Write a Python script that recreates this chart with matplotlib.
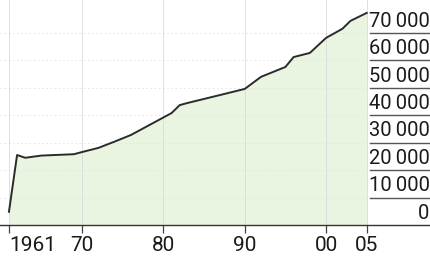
import matplotlib
matplotlib.use("Agg")
import matplotlib.pyplot as plt

years = [1961, 1962, 1963, 1965, 1969, 1970, 1972, 1974, 1976,
         1981, 1982, 1983, 1987, 1990, 1992, 1995, 1996, 1998, 2000,
         2002, 2003, 2005]
values = [4800, 25500, 24500, 25300, 25800, 26600, 28100, 30400, 32800,
          40800, 43700, 44500, 47400, 49600, 54000, 57600, 61200, 62700, 68200,
          71500, 74400, 77300]

x_ticks = [1961, 1970, 1980, 1990, 2000, 2005]
x_labels = ["1961", "70", "80", "90", "00", "05"]
y_ticks = [0, 10000, 20000, 30000, 40000, 50000, 60000, 70000]
y_labels = ["0", "10\u2009000", "20\u2009000", "30\u2009000", "40\u2009000",
            "50\u2009000", "60\u2009000", "70\u2009000"]

plt.rcParams["font.family"] = ["Roboto", "DejaVu Sans"]

fig = plt.figure(figsize=(4.31, 2.61), dpi=100)
ax = fig.add_axes([0, 36 / 261, 1, 225 / 261])
ax.set_xlim(1959.9, 2012.9)
ax.set_ylim(0, 82000)

ax.fill_between(years, values, 0, color="#eaf5e1", lw=0, zorder=1)
ax.plot(years, values, color="#2b2b2b", lw=1.4, zorder=4)

# faint dotted grid in the plot area
for v in y_ticks[1:]:
    ax.plot([1959.9, 2005], [v, v], color="#e2e2e2", lw=0.6, ls=(0, (2, 3)), zorder=2)
for yr in x_ticks:
    ax.axvline(yr, color="#dadada", lw=0.6, zorder=2)

# label column rules and labels
trans = ax.get_yaxis_transform()
for v, lab in zip(y_ticks, y_labels):
    if v > 0:
        ax.plot([0.858, 1.0], [v, v], transform=trans, color="#555555", lw=1.0,
                clip_on=False, zorder=3)
    ax.text(0.997, v + 800, lab, transform=trans, ha="right", va="bottom",
            fontsize=14.5, color="#1a1a1a")

for s in ["top", "right", "left"]:
    ax.spines[s].set_visible(False)
ax.spines["bottom"].set_color("#333333")
ax.spines["bottom"].set_linewidth(1.0)

ax.set_yticks([])
ax.set_xticks(x_ticks)
ax.set_xticklabels(x_labels, fontsize=15, color="#1a1a1a")
ax.get_xticklabels()[0].set_horizontalalignment("left")
ax.tick_params(axis="x", direction="out", length=6, width=0.9, color="#444444", pad=2)

fig.savefig("out.png", dpi=100)
